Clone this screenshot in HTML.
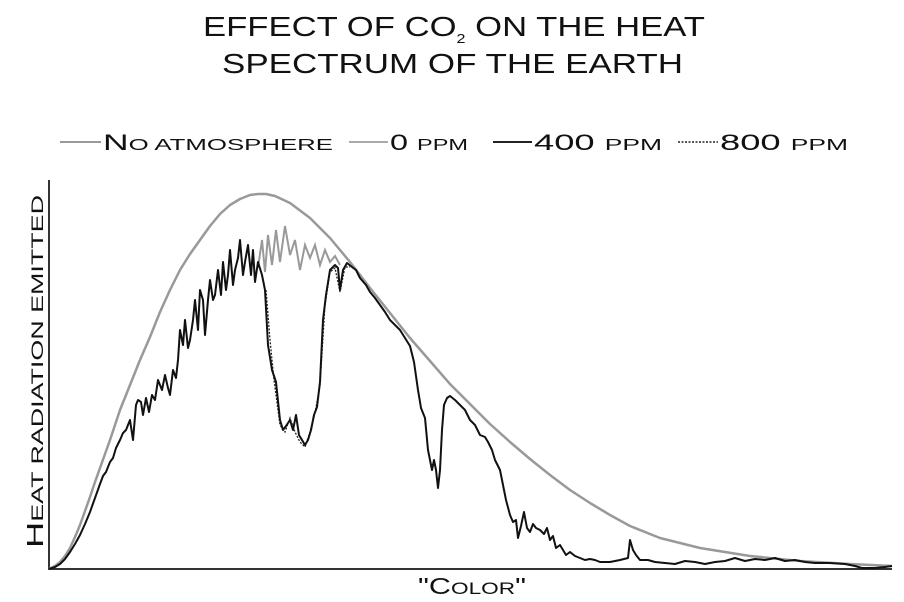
<!DOCTYPE html>
<html><head><meta charset="utf-8"><style>
html,body{margin:0;padding:0;background:#fff;width:904px;height:602px;overflow:hidden}
svg{display:block}
text{font-family:"Liberation Sans",sans-serif;fill:#111}
</style></head><body>
<svg width="904" height="602" viewBox="0 0 904 602">
<text x="203" y="36" font-size="28" textLength="502" lengthAdjust="spacingAndGlyphs">EFFECT OF CO<tspan font-size="13" dy="7">2</tspan><tspan dy="-7"> ON THE HEAT</tspan></text>
<text x="222" y="73" font-size="28" textLength="461" lengthAdjust="spacingAndGlyphs">SPECTRUM OF THE EARTH</text>
<g font-size="22">
<line x1="60" y1="142" x2="101" y2="142" stroke="#999" stroke-width="2"/>
<text x="103" y="150" textLength="230" lengthAdjust="spacingAndGlyphs">N<tspan font-size="16">O ATMOSPHERE</tspan></text>
<line x1="349" y1="142" x2="388" y2="142" stroke="#aaa" stroke-width="2"/>
<text x="390" y="150" textLength="78" lengthAdjust="spacingAndGlyphs">0 <tspan font-size="16">PPM</tspan></text>
<line x1="493" y1="142" x2="532" y2="142" stroke="#222" stroke-width="2"/>
<text x="534" y="150" textLength="128" lengthAdjust="spacingAndGlyphs">400 <tspan font-size="16">PPM</tspan></text>
<line x1="678" y1="142" x2="718" y2="142" stroke="#222" stroke-width="1.5" stroke-dasharray="2,1.5"/>
<text x="720" y="150" textLength="128" lengthAdjust="spacingAndGlyphs">800 <tspan font-size="16">PPM</tspan></text>
</g>
<text transform="translate(43,548) rotate(-90)" font-size="23" textLength="353" lengthAdjust="spacingAndGlyphs">H<tspan font-size="17">EAT RADIATION EMITTED</tspan></text>
<text x="418" y="594" font-size="23" textLength="108" lengthAdjust="spacingAndGlyphs">"C<tspan font-size="17">OLOR</tspan>"</text>
<polyline fill="none" stroke="#333" stroke-width="2" points="49,180 49,569 892,569"/>
<polyline fill="none" stroke="#999" stroke-width="2.5" stroke-linejoin="round" points="49,569 55,566 60,562 65,556 70,548 75,537 80,525 85,511 90,497 95,482 100,468 110,440 120,410 130,385 140,360 150,337 160,312 170,290 180,270 190,254 200,240 210,226 220,214 230,205 240,199 250,195 258,194 266,194 275,196 290,203 310,218 330,238 350,262 370,288 390,313 410,338 430,361 450,384 470,404 490,424 510,442 530,459 550,475 570,490 590,503 610,515 630,526 660,538 700,548 750,556 800,561 850,564 892,566"/>
<polyline fill="none" stroke="#999" stroke-width="2" points="258,268 262,240 265,272 268,235 272,265 276,230 280,262 285,226 290,255 295,240 300,270 305,245 310,258 315,245 320,265 325,250 330,262 335,256 340,265"/>
<polyline fill="none" stroke="#222" stroke-width="1.3" stroke-dasharray="2,1.5" points="266,290 270,340 274,380 280,425 285,432 290,418 295,432 300,442 305,447 310,432 315,413 320,385 325,305 330,272 335,268 340,292 345,267 350,267"/>
<polyline fill="none" stroke="#111" stroke-width="2" stroke-linejoin="round" points="49,569 55,567 60,564 65,559 70,552 75,544 80,535 85,524 90,512 95,498 100,484 103,476 106,472 110,462 113,458 116,448 120,440 123,433 126,430 130,420 133,440 136,405 138,400 141,402 143,415 146,398 149,412 152,395 155,400 158,380 162,390 165,375 168,388 170,395 173,370 176,378 178,360 180,330 183,345 185,320 188,348 190,340 193,320 195,300 198,330 200,290 203,300 205,335 208,300 210,280 213,300 215,295 218,270 221,295 223,262 226,290 228,275 230,250 233,285 235,270 238,258 240,240 243,275 245,262 248,245 251,275 253,250 255,282 258,262 262,275 265,290 268,345 272,370 276,382 280,420 283,430 286,426 290,420 293,430 296,415 299,435 302,440 305,445 308,440 311,430 314,415 317,407 320,382 323,320 326,295 330,270 335,265 338,268 340,290 343,270 347,263 352,267 356,270 360,278 366,285 370,292 375,298 380,305 385,312 390,320 396,326 400,330 405,338 410,346 414,362 418,390 421,408 425,418 428,450 432,470 434,460 436,470 438,488 440,470 442,430 444,405 447,398 450,396 455,400 460,405 465,410 470,420 475,425 480,435 485,437 488,442 492,450 495,460 500,470 503,485 506,500 510,515 513,522 516,520 518,538 521,526 524,512 527,528 530,532 533,524 536,528 540,530 544,534 547,528 550,540 553,536 556,548 560,545 563,550 566,555 570,552 575,556 580,558 585,560 590,559 595,560 600,562 610,562 620,560 628,558 630,540 633,550 636,555 640,560 648,560 655,562 665,563 675,564 685,561 695,562 705,564 715,562 725,561 735,558 745,561 755,559 765,560 775,558 785,561 795,560 805,562 815,563 830,563 845,564 855,566 862,568 875,568 885,567 892,566"/>
</svg>
</body></html>
